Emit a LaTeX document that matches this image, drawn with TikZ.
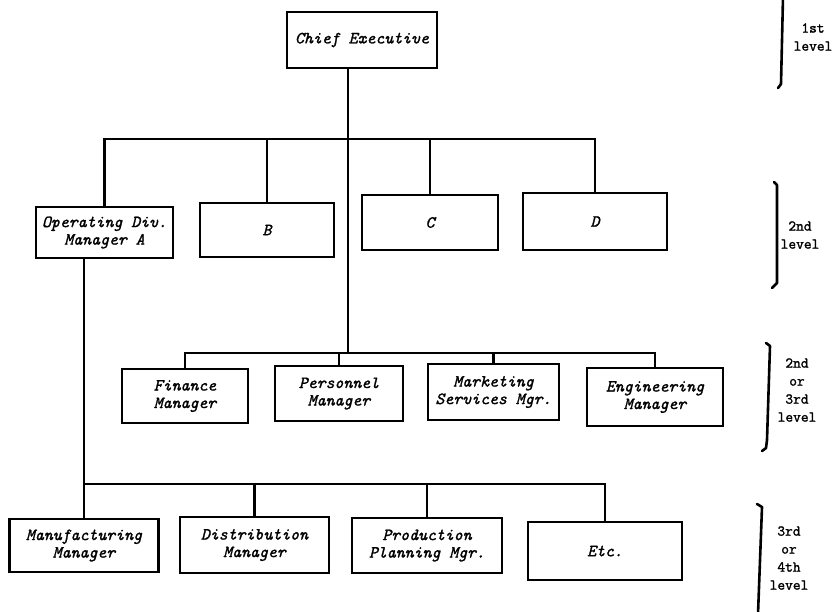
\documentclass[tikz,border=0pt]{standalone}
\usepackage{fontspec}
\newfontfamily\typerfam{Latin Modern Mono}[AutoFakeBold=1.6]
\newfontfamily\typeritfam{Latin Modern Mono}[UprightFont=*/I, FakeBold=1.4]
\newcommand\orgfont{\fontsize{17}{17.5}\selectfont\typeritfam}
\newcommand\lvlfont{\fontsize{15}{18}\selectfont\typerfam\bfseries}
\begin{document}
\begin{tikzpicture}[x=1pt,y=-1pt,
  post/.style={draw, line width=2.3pt, align=center, inner sep=0pt, font=\orgfont},
  wire/.style={line width=2.3pt, line join=miter},
  brace/.style={line width=2.6pt, line cap=round, line join=round},
  lvl/.style={align=center, inner sep=0pt, font=\lvlfont}]
\useasboundingbox (0,0) rectangle (835,611);

% 1st level
\node[post, minimum width=150pt, minimum height=56pt] (chief) at (362,40) {Chief Executive};

% operating divisions
\node[post, minimum width=137pt, minimum height=51pt] (opA) at (104.5,232.5) {Operating Div.\\Manager A};
\node[post, minimum width=134pt, minimum height=54pt] (B) at (267,230) {B};
\node[post, minimum width=136pt, minimum height=55pt] (C) at (430,222.5) {C};
\node[post, minimum width=144pt, minimum height=57pt] (D) at (595,221.5) {D};

% central services
\node[post, minimum width=126pt, minimum height=54pt] (fin) at (185,396) {Finance\\Manager};
\node[post, minimum width=128pt, minimum height=55pt] (pers) at (339,393.5) {Personnel\\Manager};
\node[post, minimum width=131pt, minimum height=56pt] (mkt) at (493.5,392) {Marketing\\Services Mgr.};
\node[post, minimum width=136pt, minimum height=58pt] (eng) at (655,397) {Engineering\\Manager};

% division departments
\node[post, minimum width=149pt, minimum height=53pt] (manu) at (84,545.5) {Manufacturing\\Manager};
\node[post, minimum width=149pt, minimum height=56pt] (dist) at (254.5,545) {Distribution\\Manager};
\node[post, minimum width=150pt, minimum height=55pt] (prod) at (427,545.5) {Production\\Planning Mgr.};
\node[post, minimum width=154pt, minimum height=58pt] (etc) at (605,551) {Etc.};

% connector rails
\coordinate (bar1) at (0,139);
\coordinate (bar2) at (0,353);
\coordinate (bar3) at (0,484);
\coordinate (spine) at (348,0);

\draw[wire] (chief.south -| spine) -- (spine |- bar2);

\draw[wire] (opA.north) -- (opA.north |- bar1) -- (D.north |- bar1) -- (D.north);
\draw[wire] (B.north) -- (B.north |- bar1);
\draw[wire] (C.north) -- (C.north |- bar1);

\draw[wire] (fin.north) -- (fin.north |- bar2) -- (eng.north |- bar2) -- (eng.north);
\draw[wire] (pers.north) -- (pers.north |- bar2);
\draw[wire] (mkt.north) -- (mkt.north |- bar2);

\draw[wire] (opA.south -| manu.north) -- (manu.north);
\draw[wire] (manu.north |- bar3) -- (etc.north |- bar3) -- (etc.north);
\draw[wire] (dist.north) -- (dist.north |- bar3);
\draw[wire] (prod.north) -- (prod.north |- bar3);

% level brackets
\draw[brace] (783,-3) -- (781,84) -- (778,88);
\draw[brace] (774,182) -- (777,185) -- (777,283) -- (772,288);
\draw[brace] (766,343) -- (770,346) -- (767,440) -- (766,448) -- (762,451);
\draw[brace] (757,504) -- (762,507) -- (758,614);

% level labels
\node[lvl] (l1) at (813,37) {1st\\level};
\node[lvl] (l2) at (800,235) {2nd\\level};
\node[lvl] (l3) at (797,390) {2nd\\or\\3rd\\level};
\node[lvl] (l4) at (789,558) {3rd\\or\\4th\\level};
\end{tikzpicture}
\end{document}
